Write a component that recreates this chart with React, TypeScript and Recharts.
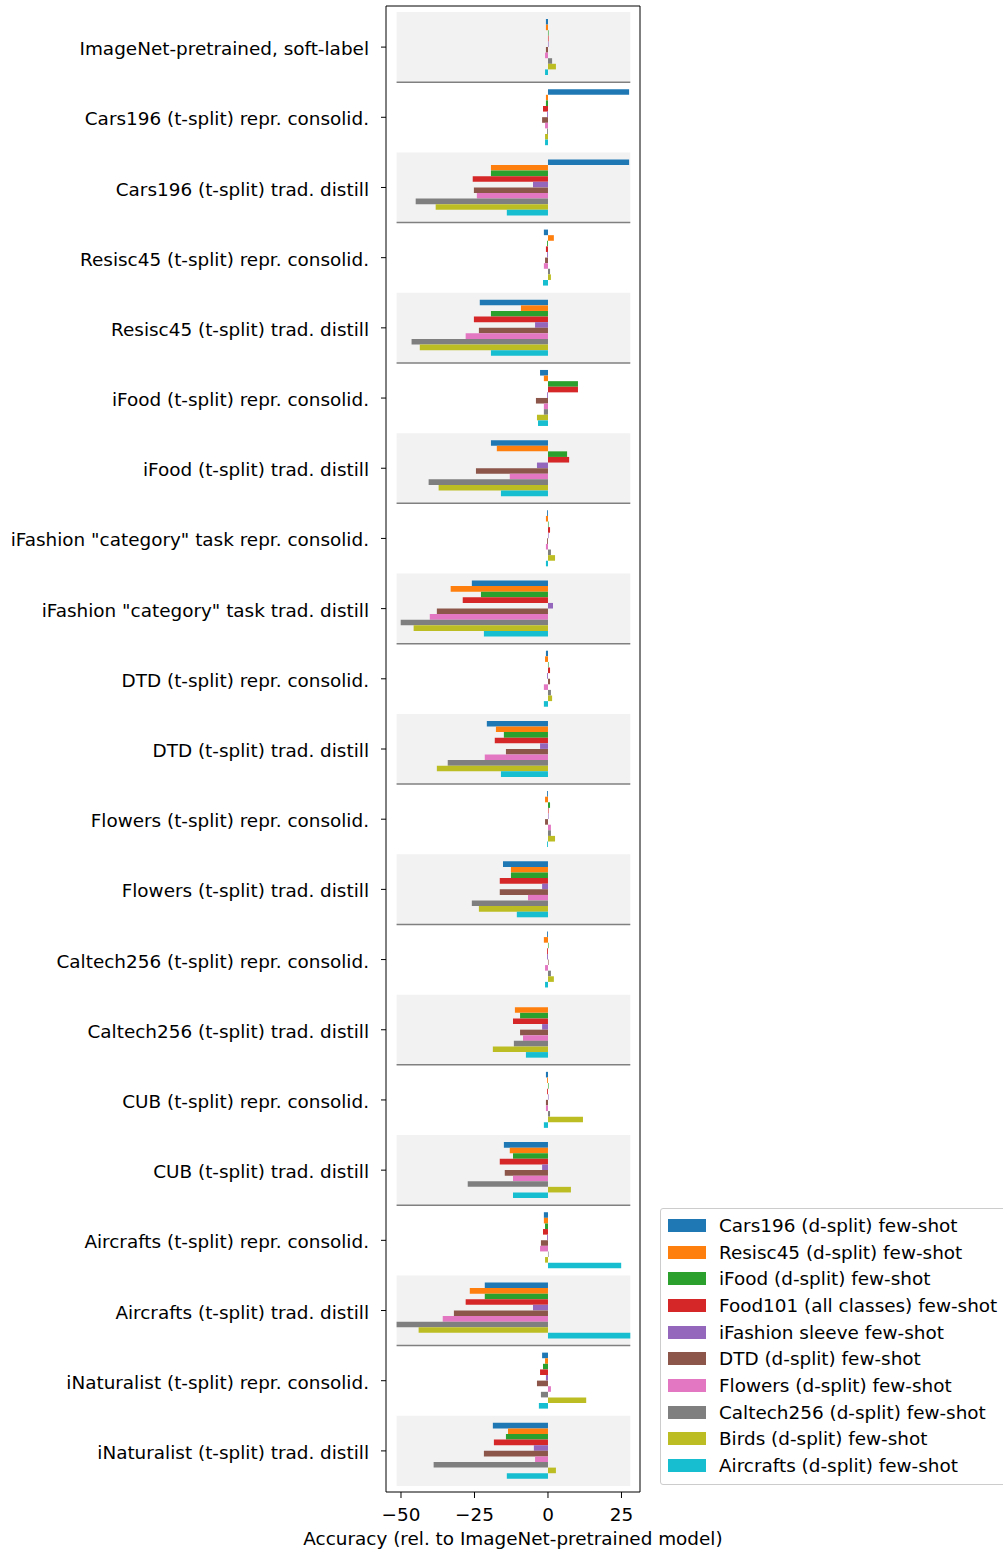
import {
  BarChart,
  Bar,
  XAxis,
  YAxis,
  ReferenceArea,
  ReferenceLine,
  Legend,
} from "recharts";

const FONT = "DejaVu Sans";
const FS = 18.4;

const CATEGORIES = [
  "ImageNet-pretrained, soft-label",
  "Cars196 (t-split) repr. consolid.",
  "Cars196 (t-split) trad. distill",
  "Resisc45 (t-split) repr. consolid.",
  "Resisc45 (t-split) trad. distill",
  "iFood (t-split) repr. consolid.",
  "iFood (t-split) trad. distill",
  'iFashion "category" task repr. consolid.',
  'iFashion "category" task trad. distill',
  "DTD (t-split) repr. consolid.",
  "DTD (t-split) trad. distill",
  "Flowers (t-split) repr. consolid.",
  "Flowers (t-split) trad. distill",
  "Caltech256 (t-split) repr. consolid.",
  "Caltech256 (t-split) trad. distill",
  "CUB (t-split) repr. consolid.",
  "CUB (t-split) trad. distill",
  "Aircrafts (t-split) repr. consolid.",
  "Aircrafts (t-split) trad. distill",
  "iNaturalist (t-split) repr. consolid.",
  "iNaturalist (t-split) trad. distill",
];

// one value per category, same order as CATEGORIES
const CARS196 = [-0.7, 27.6, 27.6, -1.4, -23.2, -2.7, -19.4, -0.3, -25.9, -0.7, -20.8, -0.3, -15.3, -0.3, 0, -0.7, -15.0, -1.4, -21.5, -2.0, -18.75];
const RESISC45 = [-0.7, -0.7, -19.4, 2.0, -9.2, -1.4, -17.4, -0.7, -33.1, -1.0, -17.7, -1.0, -12.6, -1.4, -11.25, -0.3, -13.0, -1.4, -26.6, -1.0, -13.6];
const IFOOD = [0.2, -0.7, -19.4, -0.3, -19.4, 10.2, 6.5, 0.2, -22.8, 0.2, -15.0, 0.7, -12.6, 0.2, -9.5, 0.2, -11.9, -1.0, -21.5, -1.7, -14.3];
const FOOD101 = [0.2, -1.7, -25.6, -0.7, -25.2, 10.2, 7.2, 0.7, -29.0, 0.7, -18.1, 0.2, -16.4, -0.3, -11.9, -0.3, -16.4, -1.7, -28.0, -2.7, -18.4];
const IFASHION_SLEEVE = [0.2, -0.3, -5.1, -0.3, -4.4, -0.3, -3.75, 0.2, 1.7, -0.3, -2.7, 0.2, -2.0, -0.3, -2.0, 0.2, -2.0, -0.3, -5.1, -0.7, -4.8];
const DTD = [-0.7, -2.0, -25.2, -1.0, -23.5, -4.1, -24.5, -0.3, -37.8, 0.7, -14.3, -1.0, -16.4, 0.2, -9.5, -0.7, -14.7, -2.4, -32.0, -3.75, -21.8];
const FLOWERS = [-1.0, -1.0, -24.2, -1.4, -28.0, -1.4, -13.0, -0.7, -40.2, -1.4, -21.5, 1.0, -6.8, -1.0, -8.5, -0.7, -11.9, -2.7, -35.8, 1.0, -4.4];
const CALTECH256 = [1.4, -0.3, -45.0, 0.7, -46.4, -1.4, -40.6, 1.0, -50.1, 1.0, -34.1, 1.0, -25.9, 1.0, -11.6, 0.7, -27.3, 0.2, -51.5, -2.4, -38.9];
const BIRDS = [2.7, -1.0, -38.2, 1.0, -43.6, -3.75, -37.2, 2.4, -45.7, 1.4, -37.8, 2.4, -23.5, 2.0, -18.75, 11.9, 7.8, -1.0, -44.0, 13.0, 2.7];
const AIRCRAFTS = [-1.0, -1.0, -14.0, -1.7, -19.4, -3.4, -16.0, -0.7, -21.8, -1.4, -16.0, -0.3, -10.6, -1.0, -7.5, -1.4, -11.9, 24.9, 28.0, -3.1, -14.0];

const SERIES = [
  { key: "cars196", label: "Cars196 (d-split) few-shot", color: "#1f77b4", values: CARS196 },
  { key: "resisc45", label: "Resisc45 (d-split) few-shot", color: "#ff7f0e", values: RESISC45 },
  { key: "ifood", label: "iFood (d-split) few-shot", color: "#2ca02c", values: IFOOD },
  { key: "food101", label: "Food101 (all classes) few-shot", color: "#d62728", values: FOOD101 },
  { key: "ifashion", label: "iFashion sleeve few-shot", color: "#9467bd", values: IFASHION_SLEEVE },
  { key: "dtd", label: "DTD (d-split) few-shot", color: "#8c564b", values: DTD },
  { key: "flowers", label: "Flowers (d-split) few-shot", color: "#e377c2", values: FLOWERS },
  { key: "caltech", label: "Caltech256 (d-split) few-shot", color: "#7f7f7f", values: CALTECH256 },
  { key: "birds", label: "Birds (d-split) few-shot", color: "#bcbd22", values: BIRDS },
  { key: "aircrafts", label: "Aircrafts (d-split) few-shot", color: "#17becf", values: AIRCRAFTS },
];

const X_TICKS = [-50, -25, 0, 25];
const X_DOMAIN: [number, number] = [-55.1, 31.3];

const data = CATEGORIES.map((name, i) => {
  const row: Record<string, string | number> = { name };
  SERIES.forEach((s) => {
    row[s.key] = s.values[i];
  });
  return row;
});

const allValues = SERIES.flatMap((s) => s.values);
const bandMin = Math.min(...allValues);
const bandMax = Math.max(...allValues);

const fmtTick = (v: number) => (v < 0 ? `\u2212${-v}` : `${v}`);

function LegendBox() {
  return (
    <div
      style={{
        border: "1px solid #cccccc",
        borderRadius: 3,
        background: "rgba(255,255,255,0.8)",
        padding: "3px 0 5px 7px",
        width: 350,
        fontFamily: FONT,
        fontSize: FS,
        color: "#000",
        boxSizing: "border-box",
      }}
    >
      {SERIES.map((s) => (
        <div key={s.key} style={{ display: "flex", alignItems: "center", height: 26.7 }}>
          <span style={{ width: 38, height: 13, background: s.color, marginRight: 13, flex: "none" }} />
          <span style={{ whiteSpace: "nowrap" }}>{s.label}</span>
        </div>
      ))}
    </div>
  );
}

export default function App() {
  return (
    <div style={{ position: "absolute", left: 0, top: 0, width: 1003, height: 1551, overflow: "hidden", background: "#fff" }}>
      <BarChart
        width={1003}
        height={1551}
        data={data}
        layout="vertical"
        margin={{ top: 5, right: 362, bottom: 0, left: 0 }}
        barGap={0}
        barSize={5.6}
      >
        <XAxis
          type="number"
          domain={X_DOMAIN}
          ticks={X_TICKS}
          allowDataOverflow
          tickFormatter={fmtTick}
          height={59}
          tickSize={6}
          tickMargin={10}
          stroke="#000"
          tick={{ fill: "#000", fontSize: FS, fontFamily: FONT }}
          label={{
            value: "Accuracy (rel. to ImageNet-pretrained model)",
            position: "insideBottom",
            offset: 6,
            fill: "#000",
            fontSize: FS,
            fontFamily: FONT,
          }}
        />
        <XAxis
          xAxisId="top"
          orientation="top"
          type="number"
          domain={X_DOMAIN}
          allowDataOverflow
          height={1}
          tick={false}
          tickLine={false}
          stroke="#000"
        />
        <YAxis
          type="category"
          dataKey="name"
          width={386}
          interval={0}
          padding={{ top: 6, bottom: 6 }}
          tickSize={5}
          tickMargin={12}
          stroke="#000"
          tick={{ fill: "#000", fontSize: FS, fontFamily: FONT, dy: 1.5 }}
        />
        <YAxis
          yAxisId="right"
          orientation="right"
          type="category"
          dataKey="name"
          width={1}
          tick={false}
          tickLine={false}
          stroke="#000"
        />
        {CATEGORIES.map((c, i) =>
          i % 2 === 0 ? (
            <ReferenceArea
              key={"band-" + c}
              y1={c}
              y2={c}
              x1={bandMin}
              x2={bandMax}
              fill="#808080"
              fillOpacity={0.1}
              stroke="none"
              ifOverflow="visible"
            />
          ) : null
        )}
        {CATEGORIES.map((c, i) =>
          i % 2 === 0 && i < CATEGORIES.length - 1 ? (
            <ReferenceLine
              key={"sep-" + c}
              segment={[
                { x: bandMin, y: c },
                { x: bandMax, y: c },
              ]}
              position="end"
              stroke="#808080"
              strokeWidth={1.5}
              ifOverflow="visible"
            />
          ) : null
        )}
        {SERIES.map((s) => (
          <Bar key={s.key} dataKey={s.key} name={s.label} fill={s.color} isAnimationActive={false} />
        ))}
        <Legend
          layout="vertical"
          align="center"
          verticalAlign="middle"
          wrapperStyle={{ left: 660, top: 1208, width: 360 }}
          content={() => <LegendBox />}
        />
      </BarChart>
    </div>
  );
}
